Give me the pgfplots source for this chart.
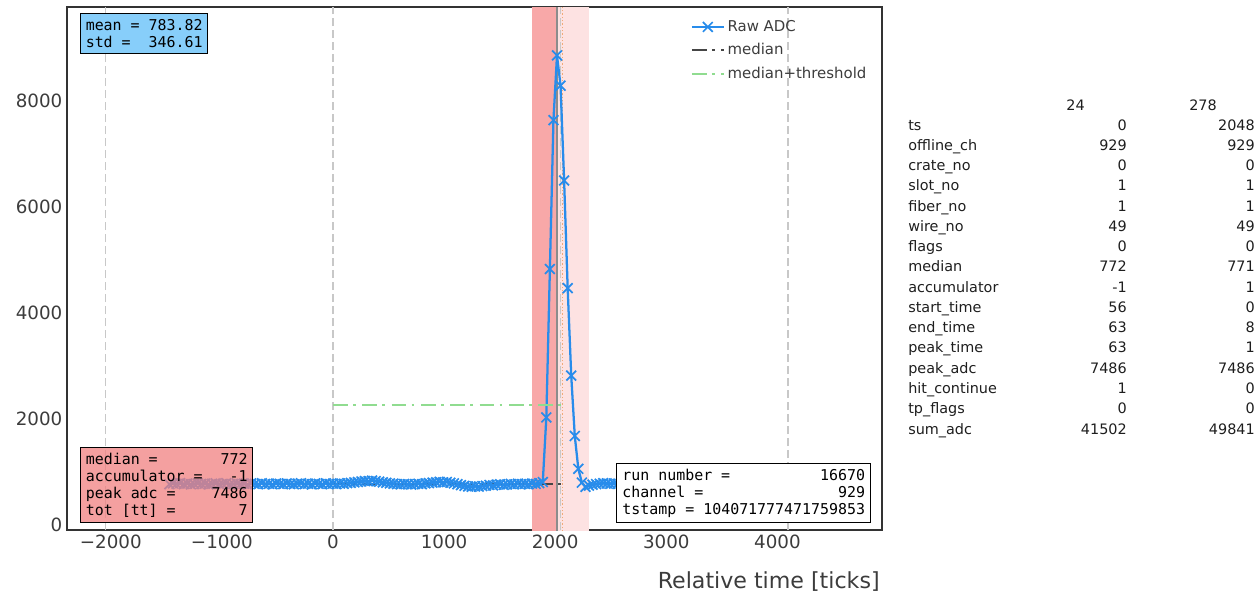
\documentclass[border=0pt]{standalone}
\usepackage{fontspec}
\setmainfont{DejaVu Sans}
\newfontfamily\mono{DejaVu Sans Mono}
\usepackage{pgfplots}
\pgfplotsset{compat=1.18}
\usepackage{pgfplotstable}

\definecolor{adcblue}{RGB}{40,140,235}
\definecolor{framec}{RGB}{51,51,51}
\definecolor{ticktext}{RGB}{60,60,60}
\definecolor{vgray}{RGB}{200,200,200}
\definecolor{medgray}{RGB}{70,70,70}
\definecolor{thrgreen}{RGB}{144,220,144}
\definecolor{banddark}{RGB}{248,168,168}
\definecolor{bandlight}{RGB}{253,226,226}
\definecolor{boxblue}{RGB}{135,206,250}
\definecolor{boxpink}{RGB}{240,128,128}
\definecolor{peakline}{RGB}{140,140,140}
\definecolor{orangedot}{RGB}{240,170,120}

\newcommand\kv[3]{\makebox[#1]{#2\hfill#3}}

\pgfplotstableread{
t adc
-1472 770
-1440 785
-1408 778
-1376 790
-1344 772
-1312 781
-1280 769
-1248 776
-1216 788
-1184 774
-1152 782
-1120 767
-1088 779
-1056 786
-1024 771
-992 777
-960 790
-928 768
-896 775
-864 783
-832 772
-800 780
-768 766
-736 785
-704 776
-672 770
-640 789
-608 774
-576 779
-544 768
-512 783
-480 777
-448 771
-416 786
-384 775
-352 769
-320 781
-288 788
-256 773
-224 778
-192 767
-160 784
-128 776
-96 770
-64 787
-32 775
0 780
32 772
64 785
96 778
128 790
160 796
192 805
224 812
256 822
288 830
320 826
352 838
384 829
416 818
448 806
480 795
512 786
544 779
576 772
608 768
640 775
672 770
704 764
736 773
768 779
800 770
832 785
864 792
896 800
928 808
960 815
992 806
1024 812
1056 798
1088 786
1120 770
1152 752
1184 738
1216 728
1248 722
1280 731
1312 725
1344 735
1376 742
1408 756
1440 749
1472 762
1504 770
1536 758
1568 766
1600 774
1632 768
1664 780
1696 772
1728 777
1760 769
1792 784
1824 776
1856 790
1888 811
1920 2030
1952 4830
1984 7640
2016 8860
2048 8290
2080 6500
2112 4470
2144 2820
2176 1680
2208 1060
2240 800
2272 720
2304 745
2336 760
2368 772
2400 780
2432 790
2464 785
2496 778
2528 782
2560 776
2592 784
}\rawadc

\begin{document}
\begin{tikzpicture}
\path[use as bounding box] (0,0) rectangle (944.25pt,-444pt);
\begin{axis}[
  at={(50.25pt,-397.5pt)}, anchor=south west,
  scale only axis, width=611.25pt, height=392.25pt,
  xmin=-2394, xmax=4941, ymin=-94, ymax=9774,
  xtick={-2000,-1000,0,1000,2000,3000,4000},
  xticklabels={−2000,−1000,0,1000,2000,3000,4000},
  ytick={0,2000,4000,6000,8000},
  yticklabels={0,2000,4000,6000,8000},
  major tick length=0pt,
  tick label style={font=\fontsize{13.7}{16}\selectfont, text=ticktext},
  axis line style={draw=framec, line width=1.4pt},
  xlabel={Relative time [ticks]},
  xlabel style={at={(rel axis cs:1,0)}, anchor=base east, yshift=-43.5pt, xshift=-1.5pt, inner sep=0pt, font=\fontsize{16.6}{20}\selectfont, text=ticktext},
  legend image code/.code={\draw[mark repeat=2,mark phase=2,#1] plot coordinates {(0cm,0cm) (0.42cm,0cm) (0.84cm,0cm)};},
  legend style={at={(0.765,0.980)}, anchor=north west, draw=none, fill=none, font=\fontsize{11.2}{13}\selectfont, text=ticktext, row sep=3.6pt, inner sep=0pt},
  legend cell align=left,
  clip=true,
]
% bands
\addplot[draw=none, fill=banddark, forget plot] coordinates {(1792,-1000) (2016,-1000) (2016,12000) (1792,12000)} -- cycle;
\addplot[draw=none, fill=bandlight, forget plot] coordinates {(2016,-1000) (2304,-1000) (2304,12000) (2016,12000)} -- cycle;
% vertical lines
\addplot[vgray, line width=1.1pt, dash pattern=on 6pt off 3pt, forget plot] coordinates {(-2048,-1000) (-2048,12000)};
\addplot[vgray, line width=1.1pt, dash pattern=on 6pt off 3pt, forget plot] coordinates {(0,-1000) (0,12000)};
\addplot[vgray, line width=1.1pt, dash pattern=on 6pt off 3pt, forget plot] coordinates {(2048,-1000) (2048,12000)};
\addplot[vgray, line width=1.1pt, dash pattern=on 6pt off 3pt, forget plot] coordinates {(4096,-1000) (4096,12000)};
\addplot[orangedot, line width=0.6pt, dash pattern=on 1pt off 1.5pt, forget plot] coordinates {(2064,-1000) (2064,12000)};
\addplot[peakline, line width=1.1pt, forget plot] coordinates {(2016,-1000) (2016,12000)};
% trace
\addplot[adcblue, line width=1.7pt, mark=x, mark size=5.2pt, mark options={line width=1.3pt, solid}] table[x=t, y=adc] {\rawadc};
\addlegendentry{Raw ADC}
\addplot[medgray, line width=1.4pt, dash pattern=on 11pt off 4pt on 2pt off 5pt] coordinates {(0,772) (2048,772)};
\addlegendentry{median}
\addplot[thrgreen, line width=1.5pt, dash pattern=on 11pt off 4pt on 2pt off 5pt] coordinates {(0,2272) (2048,2272)};
\addlegendentry{median+threshold}
\end{axis}

\begin{scope}[x=0.75pt, y=-0.75pt]
% text boxes
\node[draw=black, line width=1.1pt, fill=boxblue, anchor=north west, inner sep=0pt,
      minimum width=95.25pt, minimum height=30pt, align=left,
      font=\mono\fontsize{11.2}{13.2}\selectfont] at (80,13)
  {\kv{87.7pt}{mean =}{783.82}\\\kv{87.7pt}{std =}{346.61}};
\node[draw=black, line width=1.1pt, fill=boxpink, fill opacity=0.75, text opacity=1, anchor=north west, inner sep=0pt,
      minimum width=129pt, minimum height=56.25pt, align=left,
      font=\mono\fontsize{11.2}{12.7}\selectfont] at (80,447)
  {\kv{121.4pt}{median =}{772}\\\kv{121.4pt}{accumulator =}{-1}\\\kv{121.4pt}{peak adc =}{7486}\\\kv{121.4pt}{tot [tt] =}{7}};
\node[draw=black, line width=1.1pt, fill=white, anchor=north west, inner sep=0pt,
      minimum width=190.5pt, minimum height=44.25pt, align=left,
      font=\mono\fontsize{11.2}{12.7}\selectfont] at (616,463)
  {\kv{182.1pt}{run number =}{16670}\\\kv{182.1pt}{channel =}{929}\\\kv{182.1pt}{tstamp =}{104071777471759853}};
% table
\begin{scope}[every node/.style={inner sep=0pt, font=\fontsize{10.8}{13}\selectfont, text={rgb,255:red,30;green,30;blue,30}}]
\node[anchor=base east] at (1085,110) {24};
\node[anchor=base east] at (1217,110) {278};
\foreach \lab/\a/\b [count=\i from 0] in {ts/0/2048, offline\_ch/929/929, crate\_no/0/0, slot\_no/1/1, fiber\_no/1/1, wire\_no/49/49, flags/0/0, median/772/771, accumulator/-1/1, start\_time/56/0, end\_time/63/8, peak\_time/63/1, peak\_adc/7486/7486, hit\_continue/1/0, tp\_flags/0/0, sum\_adc/41502/49841}{
  \pgfmathsetmacro\yy{130+\i*20.27}
  \node[anchor=base west] at (908,\yy) {\lab};
  \node[anchor=base east] at (1127,\yy) {\a};
  \node[anchor=base east] at (1255,\yy) {\b};
}
\end{scope}
\end{scope}
\end{tikzpicture}
\end{document}
